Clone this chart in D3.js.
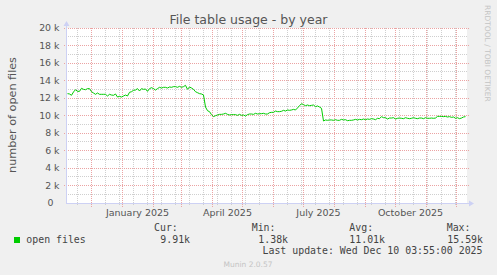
<!DOCTYPE html>
<html>
<head>
<meta charset="utf-8">
<script src="https://cdn.jsdelivr.net/npm/d3@7"></script>
<style>
  html, body { margin: 0; padding: 0; background: #f0f0f0; }
  svg { display: block; }
</style>
</head>
<body>
<svg id="chart" width="497" height="275"></svg>
<script>
// ---------------- data ----------------
const titleText = "File table usage - by year";
const yAxisTitle = "number of open files";
const seriesName = "open files";
const firstDay = "2024-11-07";   // date of first daily sample shown
const stepDays = 2;              // spacing of the readings
// open files, in thousands, one reading every 2 days
const openFilesK = [
  12.50,12.46,12.31,12.69,12.95,12.76,12.76,13.11,12.99,12.95,
  13.07,13.07,12.72,12.57,12.42,12.57,12.42,12.42,12.42,12.42,
  12.23,12.42,12.34,12.31,12.46,12.11,12.19,12.11,12.23,12.34,
  12.23,12.65,12.72,12.88,12.91,13.07,12.80,13.07,12.99,13.03,
  12.76,13.07,13.18,13.07,12.91,13.07,13.22,13.14,13.22,13.22,
  13.14,13.26,13.22,13.30,13.30,13.22,13.33,13.22,13.30,13.45,
  12.99,13.26,13.14,12.99,12.72,12.61,12.50,12.46,12.34,10.97,
  10.55,10.44,10.10,9.87,9.98,10.06,10.13,10.13,10.17,10.25,
  10.13,10.06,10.10,10.10,10.10,10.02,10.13,10.02,10.06,9.94,
  10.10,10.17,10.17,10.13,10.25,10.17,10.21,10.21,10.25,10.17,
  10.17,10.32,10.36,10.36,10.51,10.44,10.44,10.48,10.59,10.51,
  10.63,10.59,10.63,10.70,10.63,10.86,11.12,11.35,11.24,11.12,
  11.20,11.12,11.16,11.20,11.01,11.09,10.97,10.82,9.37,9.49,
  9.45,9.49,9.49,9.45,9.52,9.45,9.45,9.56,9.49,9.52,
  9.41,9.45,9.45,9.49,9.56,9.49,9.56,9.52,9.60,9.52,
  9.60,9.56,9.64,9.60,9.52,9.68,9.64,9.87,9.75,9.75,
  9.60,9.71,9.71,9.75,9.60,9.68,9.71,9.68,9.64,9.75,
  9.68,9.64,9.68,9.75,9.68,9.64,9.71,9.71,9.64,9.75,
  9.68,9.68,9.71,9.68,9.71,9.90,9.90,9.90,9.87,9.90,
  9.83,9.87,9.79,9.83,9.68,9.75,9.64,9.71,9.83,9.87
];
const yTickValues = [0,2,4,6,8,10,12,14,16,18,20];
const yTickLabels = ["0","2 k","4 k","6 k","8 k","10 k","12 k","14 k","16 k","18 k","20 k"];
const yMinorValues = [1,3,5,7,9,11,13,15,17,19];
const xLabelMonths = ["2025-01-01","2025-04-01","2025-07-01","2025-10-01"];
const xLabelTexts = ["January 2025","April 2025","July 2025","October 2025"];
const firstMinorDay = "2024-11-17";  // minor grid every 14 days from here
const legendHeaders = ["Cur:","Min:","Avg:","Max:"];
const legendValues = ["9.91k","1.38k","11.01k","15.59k"];
const lastUpdate = "Last update: Wed Dec 10 03:55:00 2025";
const watermark = "RRDTOOL / TOBI OETIKER";
const footer = "Munin 2.0.57";

// ---------------- drawing ----------------
const svg = d3.select("#chart");
const L = 67, R = 467, B = 203, T = 28;
const x = d3.scaleUtc()
  .domain([new Date(Date.UTC(2024,10,6,12)), new Date(Date.UTC(2025,11,11,12))])
  .range([L, R]);
const y = d3.scaleLinear().domain([0, 20]).range([B, T]);
const pxi = v => Math.floor(v);

const MGRID = "#eba3a3", GRID = "#cfcfcf", AXIS = "#cdd1f4";
const sans = "DejaVu Sans", mono = "DejaVu Sans Mono";

// dotted patterns (1 px on / 1 px off)
const defs = svg.append("defs");
function dotPattern(id, color, vertical) {
  const p = defs.append("pattern").attr("id", id).attr("patternUnits", "userSpaceOnUse")
    .attr("width", vertical ? 1 : 2).attr("height", vertical ? 2 : 1);
  p.append("rect").attr("width", 1).attr("height", 1).attr("fill", color);
}
dotPattern("vMaj", MGRID, true);
dotPattern("hMaj", MGRID, false);
dotPattern("vMin", GRID, true);
dotPattern("hMin", GRID, false);

svg.append("rect").attr("width", 497).attr("height", 275).attr("fill", "#f0f0f0");
svg.append("rect").attr("x", L).attr("y", T).attr("width", R - L).attr("height", B - T).attr("fill", "#ffffff");

const parse = d3.utcParse("%Y-%m-%d");
const start = x.domain()[0], end = x.domain()[1];

const g = svg.append("g").attr("shape-rendering", "crispEdges");
// minor vertical grid (every 14 days)
const minorDays = [];
for (let d = parse(firstMinorDay); d < end; d = d3.utcDay.offset(d, 14)) minorDays.push(d);
g.selectAll(".vmin").data(minorDays).join("rect")
  .attr("x", d => pxi(x(d))).attr("width", 1)
  .attr("y", T).attr("height", B - T + 2)
  .attr("fill", "url(#vMin)");
// minor horizontal grid
g.selectAll(".hmin").data(yMinorValues).join("rect")
  .attr("x", L - 1).attr("width", R - L + 1)
  .attr("y", d => pxi(y(d))).attr("height", 1)
  .attr("fill", "url(#hMin)");
// major vertical grid (months)
const months = d3.utcMonth.range(d3.utcMonth.ceil(start), end);
g.selectAll(".vmaj").data(months).join("rect")
  .attr("x", d => pxi(x(d))).attr("width", 1)
  .attr("y", T).attr("height", B - T + 4)
  .attr("fill", "url(#vMaj)");
// major horizontal grid
g.selectAll(".hmaj").data(yTickValues.filter(v => v > 0)).join("rect")
  .attr("x", L - 3).attr("width", R - L + 5)
  .attr("y", d => pxi(y(d))).attr("height", 1)
  .attr("fill", "url(#hMaj)");

// series line
const t0 = parse(firstDay);
const data = openFilesK.map((v, i) => ({ t: d3.utcDay.offset(t0, i * stepDays), v }));
svg.append("path").datum(data)
  .attr("fill", "none").attr("stroke", "#00cc00").attr("stroke-width", 1)
  .attr("d", d3.line().x(d => x(d.t)).y(d => y(d.v)));

// axes with arrows
svg.append("line").attr("x1", L - 0.5).attr("x2", L - 0.5).attr("y1", B + 0.5).attr("y2", T - 5)
  .attr("stroke", AXIS).attr("stroke-width", 1).attr("shape-rendering", "crispEdges");
svg.append("line").attr("x1", L - 1).attr("x2", R + 3).attr("y1", B + 0.5).attr("y2", B + 0.5)
  .attr("stroke", AXIS).attr("stroke-width", 1).attr("shape-rendering", "crispEdges");
svg.append("path").attr("d", `M${L - 3.5},${T - 2} L${L + 2.5},${T - 2} L${L - 0.5},${T - 7} Z`).attr("fill", AXIS);
svg.append("path").attr("d", `M${R + 2},${B - 2.5} L${R + 2},${B + 3.5} L${R + 7},${B + 0.5} Z`).attr("fill", AXIS);

// y tick labels
svg.append("g").selectAll("text").data(yTickValues).join("text")
  .attr("x", (d, i) => yTickLabels[i].includes("k") ? 59.5 : 53.5)
  .attr("y", d => y(d) + 3.4)
  .attr("text-anchor", "end")
  .attr("font-family", sans).attr("font-size", 9.4).attr("fill", "#555")
  .text((d, i) => yTickLabels[i]);

// x labels (centred mid-month)
svg.append("g").selectAll("text").data(xLabelMonths).join("text")
  .attr("x", d => x(d3.utcDay.offset(parse(d), 15)))
  .attr("y", 215.5)
  .attr("text-anchor", "middle")
  .attr("font-family", sans).attr("font-size", 9.5).attr("fill", "#555")
  .text((d, i) => xLabelTexts[i]);

// title
svg.append("text").attr("x", 248.5).attr("y", 23.5).attr("text-anchor", "middle")
  .attr("font-family", sans).attr("font-size", 12.5).attr("fill", "#555").text(titleText);

// y axis title
svg.append("text").attr("transform", "translate(15.5,115) rotate(-90)")
  .attr("text-anchor", "middle")
  .attr("font-family", sans).attr("font-size", 11.2).attr("fill", "#555").text(yAxisTitle);

// watermark
svg.append("text").attr("transform", "translate(485,5) rotate(90)")
  .attr("font-family", sans).attr("font-size", 7.5).attr("fill", "#c4c4c4").text(watermark);

// legend
svg.append("rect").attr("x", 14).attr("y", 237).attr("width", 6).attr("height", 6).attr("fill", "#00cc00");
svg.append("text").attr("x", 26.3).attr("y", 242.5)
  .attr("font-family", mono).attr("font-size", 9.9).attr("fill", "#444").text(seriesName);
const headX = [154, 251.7, 349.3, 446.7];
const valX = [160.3, 258.3, 349.3, 447.3];
svg.append("g").selectAll("text").data(legendHeaders).join("text")
  .attr("x", (d, i) => headX[i]).attr("y", 230.8)
  .attr("font-family", mono).attr("font-size", 9.9).attr("fill", "#444").text(d => d);
svg.append("g").selectAll("text").data(legendValues).join("text")
  .attr("x", (d, i) => valX[i]).attr("y", 242.5)
  .attr("font-family", mono).attr("font-size", 9.9).attr("fill", "#444").text(d => d);
svg.append("text").attr("x", 482.5).attr("y", 254).attr("text-anchor", "end")
  .attr("font-family", mono).attr("font-size", 9.9).attr("fill", "#444").text(lastUpdate);

// footer
svg.append("text").attr("x", 248).attr("y", 266.7).attr("text-anchor", "middle")
  .attr("font-family", sans).attr("font-size", 7.5).attr("fill", "#c4c4c4").text(footer);
</script>
</body>
</html>
